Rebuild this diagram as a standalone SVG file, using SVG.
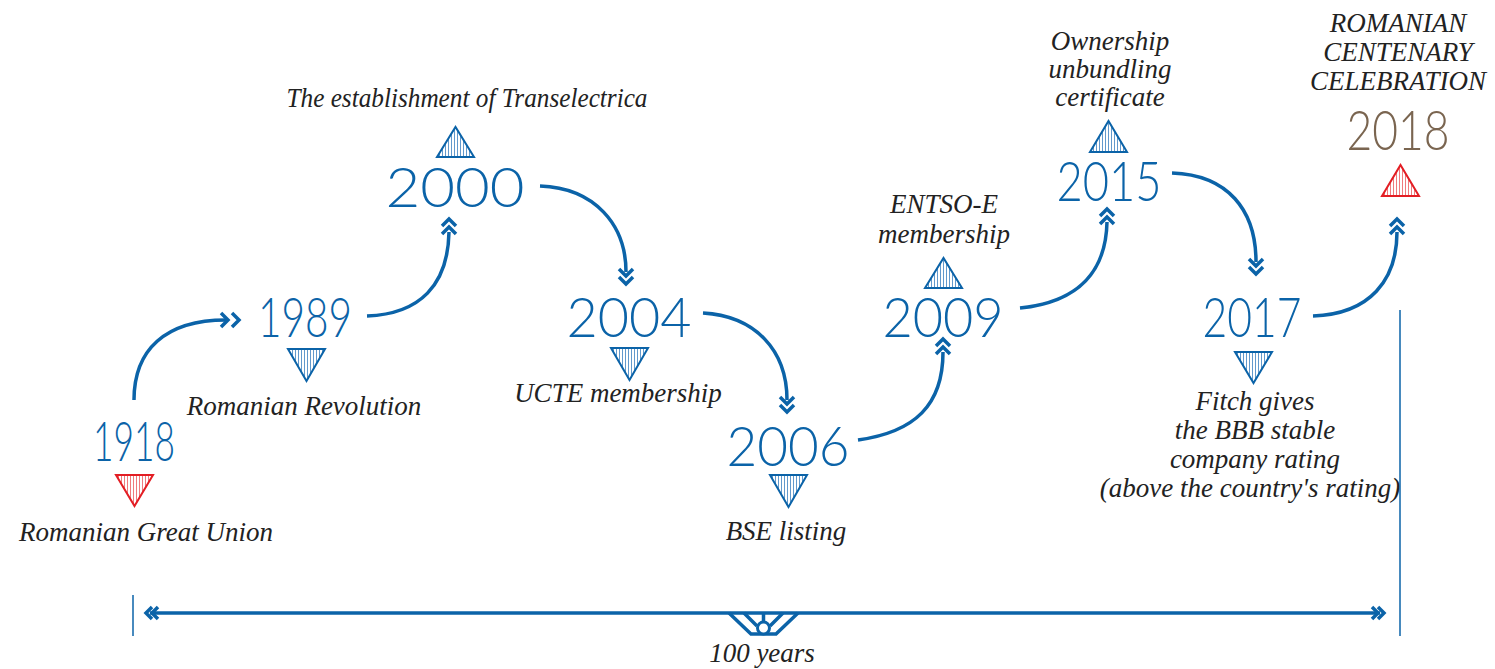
<svg xmlns="http://www.w3.org/2000/svg" width="1495" height="669" viewBox="0 0 1495 669">
<style>
.yr{font-family:Lato,"Liberation Sans",sans-serif;font-weight:300;font-size:56px;fill:#0b63a8;text-anchor:middle}
.yr18{fill:#7a6550}
.lb{font-family:"Liberation Serif","DejaVu Serif","Times New Roman",serif;font-style:italic;font-size:27px;fill:#222;text-anchor:middle}
.con{fill:none;stroke:#0b63a8;stroke-width:3.5}
.chev{fill:none;stroke:#0b63a8;stroke-width:3.5;stroke-linejoin:miter}
.tb{fill:url(#hb);stroke:#0b63a8;stroke-width:2}
.tr{fill:url(#hr);stroke:#e31e24;stroke-width:2}
.thin{stroke:#0b63a8;stroke-width:1.5}
</style>
<defs>
<pattern id="hb" width="3" height="10" patternUnits="userSpaceOnUse"><rect width="3" height="10" fill="#fff"/><rect x="1" width="0.8" height="10" fill="#3a7fbf"/></pattern>
<pattern id="hr" width="3" height="10" patternUnits="userSpaceOnUse"><rect width="3" height="10" fill="#fff"/><rect x="1" width="0.8" height="10" fill="#ec5a5e"/></pattern>
<g id="chevU"><path class="chev" d="M-7,5 L0,-2 L7,5 M-7,13 L0,6 L7,13"/></g>
<g id="chevD"><path class="chev" d="M-7,-5 L0,2 L7,-5 M-7,-13 L0,-6 L7,-13"/></g>
<g id="chevR"><path class="chev" d="M-7,-7 L0,0 L-7,7 M-18,-7 L-11,0 L-18,7"/></g>
</defs>

<g id="connectors">
<path class="con" d="M134,400 C134,350 165,320 226,320"/>
<use href="#chevR" x="239" y="320"/>
<path class="con" d="M367,316 C420,314 448,285 449,232"/>
<use href="#chevU" x="449" y="221"/>
<path class="con" d="M540,186 C595,188 626,225 626,272"/>
<use href="#chevD" x="626" y="282"/>
<path class="con" d="M703,313 C755,316 787,350 787,400"/>
<use href="#chevD" x="787" y="410"/>
<path class="con" d="M858,440 C915,432 943,405 943,352"/>
<use href="#chevU" x="943" y="341"/>
<path class="con" d="M1020,308 C1080,302 1106,270 1107,222"/>
<use href="#chevU" x="1107" y="211"/>
<path class="con" d="M1172,173 C1228,175 1256,210 1256,262"/>
<use href="#chevD" x="1256" y="272"/>
<path class="con" d="M1313,316 C1370,314 1397,280 1397,232"/>
<use href="#chevU" x="1397" y="221"/>
</g>

<g id="n1918">
<text class="yr" x="134" y="461" textLength="82" lengthAdjust="spacingAndGlyphs">1918</text>
<path class="tr" d="M116,475 L153,475 L134.5,506 Z"/>
<text class="lb" x="146" y="541">Romanian Great Union</text>
</g>
<g id="n1989">
<text class="yr" x="305" y="337" textLength="94" lengthAdjust="spacingAndGlyphs">1989</text>
<path class="tb" d="M288,349 L325,349 L306.5,381 Z"/>
<text class="lb" x="304" y="415">Romanian Revolution</text>
</g>
<g id="n2000">
<text class="yr" x="455" y="207" textLength="139" lengthAdjust="spacingAndGlyphs">2000</text>
<path class="tb" d="M437,157 L474,157 L455.5,127 Z"/>
<text class="lb" x="467" y="107" textLength="361" lengthAdjust="spacingAndGlyphs">The establishment of Transelectrica</text>
</g>
<g id="n2004">
<text class="yr" x="629" y="337" textLength="125" lengthAdjust="spacingAndGlyphs">2004</text>
<path class="tb" d="M611,348 L648,348 L629.5,380 Z"/>
<text class="lb" x="618" y="402">UCTE membership</text>
</g>
<g id="n2006">
<text class="yr" x="788" y="466" textLength="123" lengthAdjust="spacingAndGlyphs">2006</text>
<path class="tb" d="M770,475 L807,475 L788.5,507 Z"/>
<text class="lb" x="786" y="540">BSE listing</text>
</g>
<g id="n2009">
<text class="yr" x="943" y="337" textLength="121" lengthAdjust="spacingAndGlyphs">2009</text>
<path class="tb" d="M925,288 L962,288 L943.5,258 Z"/>
<text class="lb" x="944" y="213">ENTSO-E</text>
<text class="lb" x="944" y="243">membership</text>
</g>
<g id="n2015">
<text class="yr" x="1109" y="201" textLength="105" lengthAdjust="spacingAndGlyphs">2015</text>
<path class="tb" d="M1090,152 L1127,152 L1108.5,121 Z"/>
<text class="lb" x="1110" y="50">Ownership</text>
<text class="lb" x="1110" y="78">unbundling</text>
<text class="lb" x="1110" y="106">certificate</text>
</g>
<g id="n2017">
<text class="yr" x="1252" y="337" textLength="99" lengthAdjust="spacingAndGlyphs">2017</text>
<path class="tb" d="M1235,352 L1272,352 L1253.5,383 Z"/>
<text class="lb" x="1255" y="410">Fitch gives</text>
<text class="lb" x="1255" y="439">the BBB stable</text>
<text class="lb" x="1255" y="468">company rating</text>
<text class="lb" x="1250" y="497">(above the country's rating)</text>
</g>
<g id="n2018">
<text class="yr yr18" x="1398" y="150" textLength="103" lengthAdjust="spacingAndGlyphs">2018</text>
<path class="tr" d="M1382,196 L1419,196 L1400.5,165 Z"/>
<text class="lb" x="1398" y="32">ROMANIAN</text>
<text class="lb" x="1398" y="61">CENTENARY</text>
<text class="lb" x="1398" y="90">CELEBRATION</text>
</g>

<g id="span">
<line class="thin" x1="133" y1="595" x2="133" y2="636"/>
<line class="thin" x1="1400" y1="310" x2="1400" y2="636"/>
<line class="con" x1="150" y1="613" x2="1380" y2="613"/>
<path class="chev" d="M152,607 L146,613 L152,619 M158,607 L152,613 L158,619"/>
<path class="chev" d="M1378,607 L1384,613 L1378,619 M1372,607 L1378,613 L1372,619"/>
<path class="chev" d="M729,613 L751,634 L776,634 L798,613 M744,613 L757,626 M783,613 L770,626 M763.5,613 V621"/>
<circle cx="763.5" cy="628" r="6" fill="#fff" stroke="#0b63a8" stroke-width="3"/>
<text class="lb" x="762" y="662">100 years</text>
</g>
</svg>
